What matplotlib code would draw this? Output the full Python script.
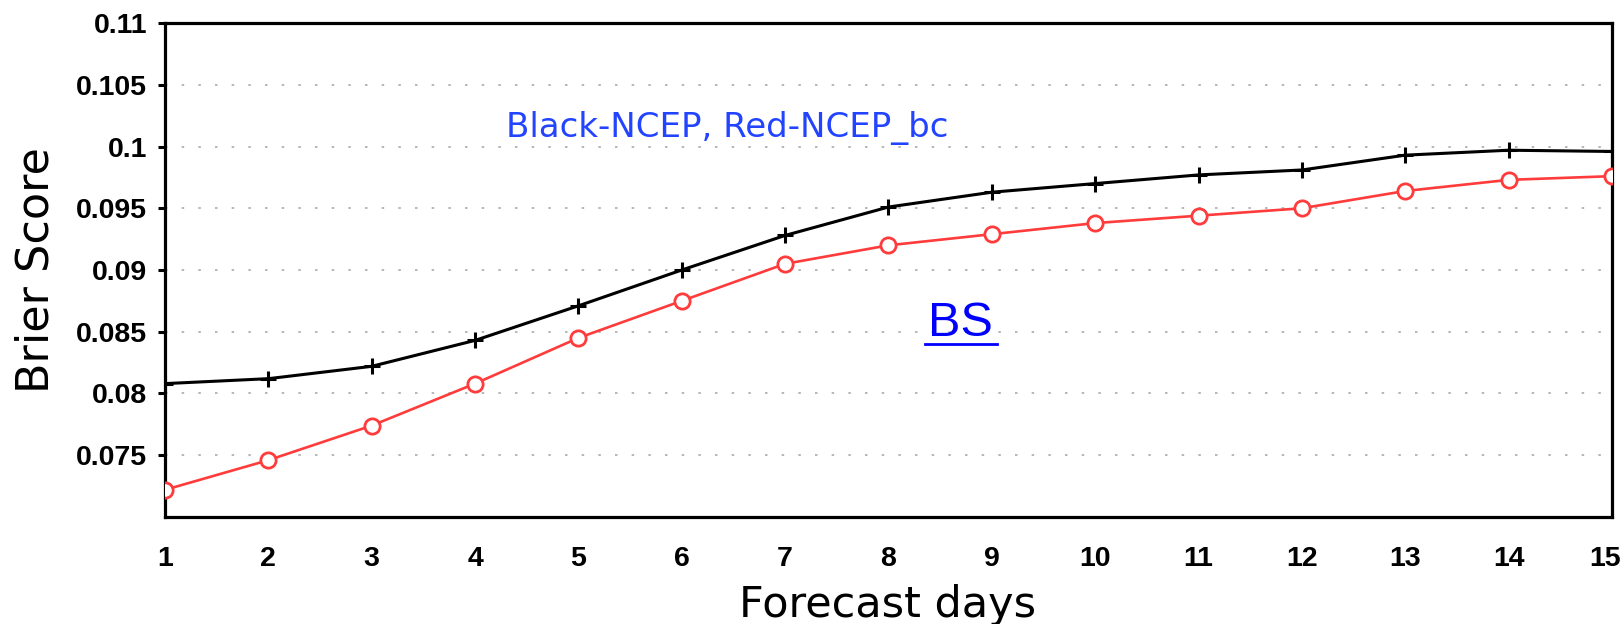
import numpy as np
import matplotlib
matplotlib.use("Agg")
import matplotlib.pyplot as plt
import matplotlib.transforms as mtransforms

# Brier score vs forecast lead time
days = np.arange(1, 16)
bs_ncep = [0.0808, 0.0812, 0.0822, 0.0843, 0.0871, 0.0900, 0.0928, 0.0951,
           0.0963, 0.0970, 0.0977, 0.0981, 0.0993, 0.0997, 0.0996]
bs_ncep_bc = [0.0722, 0.0746, 0.0774, 0.0808, 0.0845, 0.0875, 0.0905, 0.0920,
              0.0929, 0.0938, 0.0944, 0.0950, 0.0964, 0.0973, 0.0976]
yticks = [0.075, 0.08, 0.085, 0.09, 0.095, 0.1, 0.105, 0.11]
ytick_labels = ["0.075", "0.08", "0.085", "0.09", "0.095", "0.1", "0.105", "0.11"]

fig = plt.figure(figsize=(16.24, 6.24), dpi=100)
ax = fig.add_axes([0.1016, 0.1715, 0.8910, 0.7916])

ax.plot(days, bs_ncep, color="black", lw=2.2, marker="+", ms=12, mew=2.2, zorder=4)
ax.plot(days, bs_ncep_bc, color="#ff3b3b", lw=1.9, marker="o", ms=11,
        mfc="white", mec="#ff3b3b", mew=2.0, zorder=5)

ax.set_xlim(1, 15)
ax.set_ylim(0.07, 0.11)
ax.set_xticks(days)
ax.set_xticklabels([str(d) for d in days])
ax.set_yticks(yticks)
ax.set_yticklabels(ytick_labels)

for y in yticks:
    ax.axhline(y, color="#aaaaaa", lw=1.2, linestyle=(0, (1.5, 8.5)), zorder=1)

ax.tick_params(axis="y", direction="out", length=5, width=2.2, pad=8)
ax.tick_params(axis="x", length=0, pad=21)
for s in ax.spines.values():
    s.set_linewidth(2.3)

tick_font = dict(family="Liberation Sans", weight="bold", size=20.5)
for lab in ax.get_xticklabels() + ax.get_yticklabels():
    lab.set_fontproperties(tick_font)

# pull the last day label in so it stays on the canvas
last = ax.get_xticklabels()[-1]
last.set_transform(last.get_transform() +
                   mtransforms.ScaledTranslation(-0.07, 0, fig.dpi_scale_trans))

ax.set_ylabel("Brier Score", fontsize=32)
ax.yaxis.set_label_coords(-0.074, 0.5)
fig.text(0.5465, 0.011, "Forecast days", fontsize=31, ha="center", va="baseline")

ax.text(0.236, 0.787, "Black-NCEP, Red-NCEP_bc", transform=ax.transAxes,
        color="#2244ff", fontsize=24.5, va="center", ha="left")
ax.text(0.550, 0.366, "BS", transform=ax.transAxes, color="#0000ff",
        fontsize=35, family="Liberation Sans", ha="center", va="baseline")
ax.plot([0.525, 0.575], [0.350, 0.350], transform=ax.transAxes,
        color="#0000ff", lw=2, clip_on=False)

fig.savefig("out.png", dpi=100)
